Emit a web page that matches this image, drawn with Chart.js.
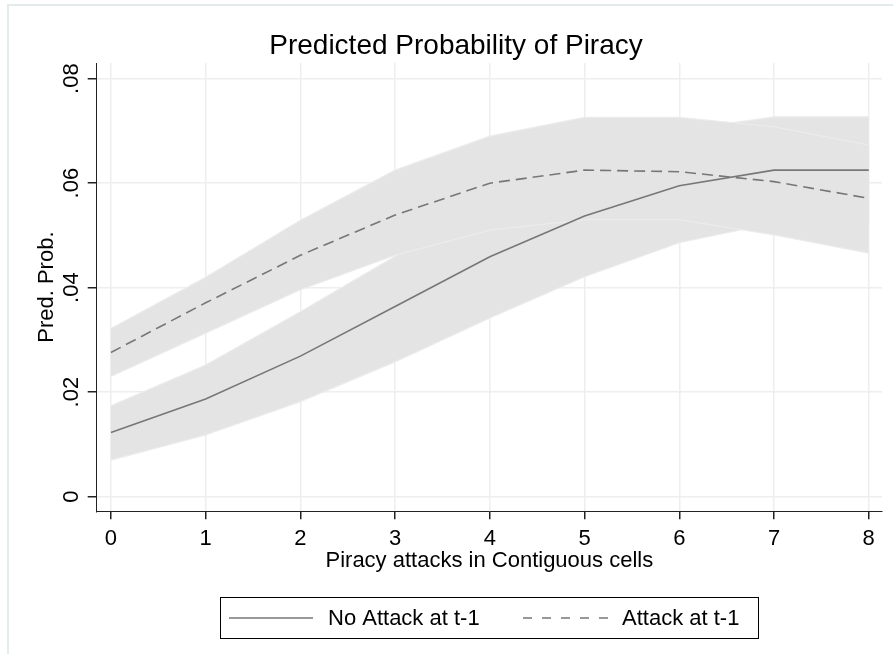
<!DOCTYPE html>
<html>
<head>
<meta charset="utf-8">
<script src="https://cdn.jsdelivr.net/npm/chart.js@4.4.1/dist/chart.umd.min.js"></script>
<style>
  html, body { margin: 0; padding: 0; background: #fff; }
  #wrap { width: 893px; height: 654px; position: relative; }
</style>
</head>
<body>
<div id="wrap"><canvas id="chart" width="893" height="654"></canvas></div>
<script>
// Predicted probability data
const xValues = [0, 1, 2, 3, 4, 5, 6, 7, 8];
const xTickLabels = ['0', '1', '2', '3', '4', '5', '6', '7', '8'];
const yTickValues = [0, 0.02, 0.04, 0.06, 0.08];
const yTickLabels = ['0', '.02', '.04', '.06', '.08'];
const seriesNames = ['No Attack at t-1', 'Attack at t-1'];

const noAttack   = [0.0123, 0.0187, 0.0269, 0.0364, 0.0459, 0.0537, 0.0595, 0.0625, 0.0625];
const noAttackLo = [0.0070, 0.0118, 0.0182, 0.0258, 0.0342, 0.0421, 0.0486, 0.0524, 0.0520];
const noAttackHi = [0.0174, 0.0252, 0.0354, 0.0460, 0.0564, 0.0650, 0.0701, 0.0727, 0.0727];

const attack   = [0.0276, 0.0371, 0.0462, 0.0539, 0.0600, 0.0625, 0.0622, 0.0603, 0.0571];
const attackLo = [0.0230, 0.0313, 0.0396, 0.0462, 0.0510, 0.0530, 0.0530, 0.0501, 0.0466];
const attackHi = [0.0322, 0.0420, 0.0529, 0.0625, 0.0690, 0.0726, 0.0726, 0.0708, 0.0673];

const FONT = '"Liberation Sans", Arial, sans-serif';
const LINE_COLOR = '#777777';
const BAND_COLOR = '#e4e4e4';
const EDGE_COLOR = '#ececec';
const DASH = [11, 6];

const toPoints = ys => xValues.map((x, i) => ({ x: x, y: ys[i] }));

// one edge of a confidence band; the upper edge fills down to the next dataset
function bandEdge(ys, fill, order) {
    return {
        data: toPoints(ys),
        fill: fill,
        backgroundColor: BAND_COLOR,
        borderColor: EDGE_COLOR,
        borderWidth: 1.2,
        pointRadius: 0,
        tension: 0,
        order: order
    };
}

// draws the Stata-like extras: frame, title, rotated y labels, axis titles, legend
const decorations = {
    id: 'decorations',
    afterDraw(chart) {
        const ctx = chart.ctx;
        const area = chart.chartArea;
        const yScale = chart.scales.y;
        ctx.save();

        ctx.strokeStyle = '#e3ebed';
        ctx.lineWidth = 2;
        ctx.strokeRect(8, 5, 920, 700);

        ctx.fillStyle = '#000';
        ctx.font = '28px ' + FONT;
        ctx.textAlign = 'center';
        ctx.textBaseline = 'alphabetic';
        ctx.fillText('Predicted Probability of Piracy', 456, 54);

        ctx.font = '22px ' + FONT;
        yTickValues.forEach((v, i) => {
            const py = yScale.getPixelForValue(v);
            ctx.save();
            ctx.translate(78, py);
            ctx.rotate(-Math.PI / 2);
            ctx.fillText(yTickLabels[i], 0, 0);
            ctx.restore();
        });

        ctx.save();
        ctx.translate(53, (area.top + area.bottom) / 2);
        ctx.rotate(-Math.PI / 2);
        ctx.fillText('Pred. Prob.', 0, 0);
        ctx.restore();

        ctx.fillText('Piracy attacks in Contiguous cells', (area.left + area.right) / 2, 567);

        // legend
        ctx.strokeStyle = '#000';
        ctx.lineWidth = 1;
        ctx.strokeRect(220.5, 597.5, 538, 41);

        ctx.strokeStyle = LINE_COLOR;
        ctx.lineWidth = 1.6;
        ctx.beginPath();
        ctx.moveTo(229, 618);
        ctx.lineTo(313, 618);
        ctx.stroke();

        ctx.setLineDash([9, 10]);
        ctx.beginPath();
        ctx.moveTo(523, 618);
        ctx.lineTo(608, 618);
        ctx.stroke();
        ctx.setLineDash([]);

        ctx.textAlign = 'left';
        ctx.fillText(seriesNames[0], 328, 625);
        ctx.fillText(seriesNames[1], 622, 625);

        ctx.restore();
    }
};

const chart = new Chart(document.getElementById('chart'), {
    type: 'line',
    data: {
        datasets: [
            {
                label: seriesNames[0],
                data: toPoints(noAttack),
                borderColor: LINE_COLOR,
                borderWidth: 1.6,
                pointRadius: 0,
                fill: false,
                tension: 0,
                order: 0
            },
            {
                label: seriesNames[1],
                data: toPoints(attack),
                borderColor: LINE_COLOR,
                borderWidth: 1.6,
                borderDash: DASH,
                pointRadius: 0,
                fill: false,
                tension: 0,
                order: 0
            },
            // higher order is drawn first: solid band, then dashed band on top
            bandEdge(noAttackHi, '+1', 4),
            bandEdge(noAttackLo, false, 3),
            bandEdge(attackHi, '+1', 2),
            bandEdge(attackLo, false, 1)
        ]
    },
    options: {
        responsive: false,
        animation: false,
        devicePixelRatio: 1,
        layout: { padding: { top: 63, right: 11, bottom: 0, left: 0 } },
        plugins: {
            legend: { display: false },
            title: { display: false },
            tooltip: { enabled: false },
            filler: { drawTime: 'beforeDatasetDraw' }
        },
        scales: {
            x: {
                type: 'linear',
                min: -0.15,
                max: 8.14,
                afterFit: scale => { scale.height = 142.7; },
                grid: { color: '#eeeeee', lineWidth: 1.5, tickColor: '#222', tickLength: 8 },
                border: { color: '#222', width: 1 },
                ticks: {
                    stepSize: 1,
                    includeBounds: false,
                    autoSkip: false,
                    maxRotation: 0,
                    padding: 6,
                    color: '#000',
                    font: { family: FONT, size: 22 },
                    callback: v => xTickLabels[xValues.indexOf(Math.round(v))]
                }
            },
            y: {
                type: 'linear',
                min: -0.0028,
                max: 0.083,
                afterFit: scale => { scale.width = 96.7; },
                grid: { color: '#eeeeee', lineWidth: 1.5, tickColor: '#222', tickLength: 9 },
                border: { color: '#222', width: 1 },
                ticks: {
                    stepSize: 0.02,
                    includeBounds: false,
                    display: false
                }
            }
        }
    },
    plugins: [decorations]
});
</script>
</body>
</html>
